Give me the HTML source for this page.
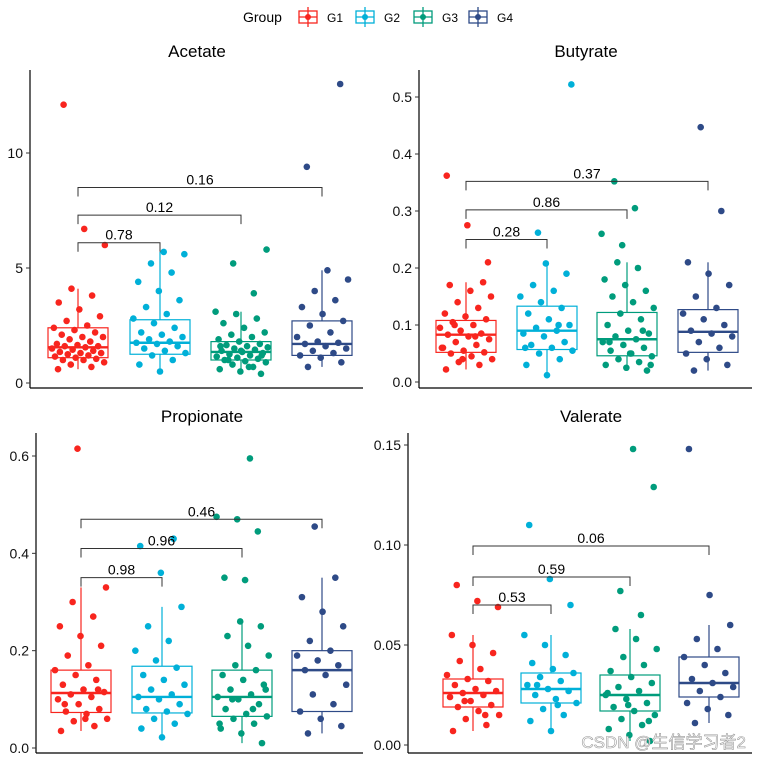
<!DOCTYPE html>
<html><head><meta charset="utf-8"><style>
html,body{margin:0;padding:0;background:#fff;}
svg{display:block;font-family:"Liberation Sans",Arial,sans-serif;}
</style></head><body>
<svg id="chart" width="758" height="761" viewBox="0 0 758 761" xmlns="http://www.w3.org/2000/svg">
<g id="legend">
<text x="243" y="22" font-size="14">Group</text>
</g>
</svg>
<script>
const groups = ["G1","G2","G3","G4"];
const colors = ["#F8251E","#00B0D8","#009C7C","#2E4A87"];
const panelNames = ["Acetate","Butyrate","Propionate","Valerate"];

// box stats: [lo, q1, med, q3, hi] per group
const acetateBox = [[0.6,1.1,1.55,2.4,4.1],[0.5,1.25,1.75,2.75,5.7],[0.4,1.0,1.35,1.8,3.1],[0.7,1.2,1.7,2.7,4.9]];
const butyrateBox = [[0.022,0.052,0.083,0.108,0.175],[0.012,0.057,0.09,0.133,0.208],[0.02,0.046,0.075,0.122,0.21],[0.02,0.052,0.088,0.127,0.21]];
const propionateBox = [[0.035,0.073,0.113,0.16,0.33],[0.022,0.072,0.105,0.168,0.29],[0.01,0.065,0.105,0.16,0.26],[0.03,0.075,0.16,0.2,0.35]];
const valerateBox = [[0.007,0.019,0.026,0.033,0.055],[0.007,0.021,0.028,0.036,0.055],[0.002,0.017,0.025,0.035,0.058],[0.011,0.024,0.031,0.044,0.06]];

// points per group
const acetatePts = [
 [0.6,0.7,0.8,0.9,1.0,1.0,1.05,1.1,1.15,1.2,1.25,1.3,1.3,1.35,1.4,1.45,1.5,1.55,1.6,1.6,1.65,1.7,1.8,1.9,2.0,2.0,2.1,2.2,2.3,2.4,2.5,2.7,2.9,3.2,3.5,3.8,4.1,6.0,6.7,12.1],
 [0.5,0.8,1.0,1.2,1.3,1.4,1.5,1.6,1.7,1.75,1.8,1.9,2.0,2.1,2.2,2.4,2.6,2.8,3.0,3.3,3.6,4.0,4.4,4.8,5.2,5.6,5.7],
 [0.4,0.5,0.6,0.7,0.8,0.9,0.95,1.0,1.05,1.1,1.15,1.2,1.25,1.3,1.35,1.4,1.45,1.5,1.55,1.6,1.65,1.7,1.8,1.9,2.0,2.1,2.2,2.4,2.6,2.8,3.0,3.1,0.7,1.0,1.2,1.4,1.6,3.9,5.2,5.8],
 [0.7,0.9,1.1,1.2,1.3,1.4,1.5,1.6,1.7,1.75,1.8,2.0,2.2,2.5,2.7,3.0,3.3,3.6,4.0,4.5,4.9,9.4,13.0]
];
const butyratePts = [
 [0.022,0.03,0.035,0.04,0.045,0.05,0.052,0.055,0.06,0.065,0.07,0.075,0.08,0.083,0.085,0.09,0.095,0.1,0.105,0.11,0.115,0.12,0.13,0.14,0.15,0.16,0.17,0.175,0.04,0.06,0.08,0.1,0.21,0.275,0.362],
 [0.012,0.03,0.04,0.05,0.055,0.06,0.065,0.07,0.08,0.085,0.09,0.095,0.1,0.11,0.12,0.13,0.14,0.15,0.16,0.17,0.19,0.208,0.06,0.1,0.262,0.522],
 [0.02,0.025,0.03,0.035,0.04,0.045,0.05,0.055,0.06,0.065,0.07,0.075,0.08,0.085,0.09,0.1,0.11,0.12,0.13,0.14,0.15,0.16,0.17,0.18,0.2,0.21,0.03,0.05,0.07,0.09,0.24,0.26,0.305,0.352],
 [0.02,0.03,0.04,0.05,0.06,0.07,0.08,0.085,0.09,0.1,0.11,0.12,0.13,0.15,0.17,0.19,0.21,0.3,0.447]
];
const propionatePts = [
 [0.035,0.045,0.055,0.06,0.07,0.075,0.08,0.09,0.1,0.105,0.11,0.115,0.12,0.13,0.14,0.15,0.16,0.17,0.19,0.21,0.23,0.25,0.27,0.3,0.33,0.06,0.09,0.12,0.615],
 [0.022,0.04,0.05,0.06,0.07,0.075,0.08,0.09,0.1,0.105,0.11,0.12,0.13,0.14,0.15,0.165,0.18,0.2,0.22,0.25,0.29,0.36,0.415,0.43],
 [0.01,0.03,0.04,0.05,0.06,0.065,0.07,0.08,0.09,0.1,0.105,0.11,0.12,0.13,0.14,0.15,0.16,0.17,0.19,0.21,0.23,0.25,0.26,0.05,0.08,0.1,0.12,0.345,0.35,0.445,0.47,0.475,0.595],
 [0.03,0.045,0.06,0.075,0.09,0.11,0.13,0.15,0.16,0.17,0.18,0.19,0.2,0.22,0.25,0.28,0.31,0.35,0.455]
];
const valeratePts = [
 [0.007,0.01,0.013,0.015,0.017,0.019,0.02,0.022,0.024,0.025,0.026,0.027,0.028,0.03,0.032,0.033,0.035,0.038,0.042,0.046,0.05,0.055,0.015,0.022,0.069,0.072,0.08],
 [0.007,0.012,0.015,0.018,0.021,0.023,0.025,0.027,0.028,0.03,0.032,0.034,0.036,0.038,0.041,0.045,0.05,0.055,0.02,0.03,0.07,0.083,0.11],
 [0.002,0.005,0.008,0.01,0.013,0.015,0.017,0.019,0.021,0.023,0.025,0.027,0.029,0.031,0.034,0.037,0.04,0.044,0.048,0.053,0.058,0.012,0.02,0.026,0.065,0.077,0.129,0.148],
 [0.011,0.015,0.018,0.021,0.024,0.027,0.029,0.031,0.033,0.036,0.04,0.044,0.048,0.053,0.06,0.075,0.148]
];

// brackets: [groupFrom, groupTo, yValue, label]
const acetateBr = [[0,1,6.1,"0.78"],[0,2,7.3,"0.12"],[0,3,8.5,"0.16"]];
const butyrateBr = [[0,1,0.25,"0.28"],[0,2,0.302,"0.86"],[0,3,0.352,"0.37"]];
const propionateBr = [[0,1,0.35,"0.98"],[0,2,0.41,"0.96"],[0,3,0.47,"0.46"]];
const valerateBr = [[0,1,0.07,"0.53"],[0,2,0.084,"0.59"],[0,3,0.0995,"0.06"]];

const acetateTicks = [0,5,10];
const butyrateTicks = [0.0,0.1,0.2,0.3,0.4,0.5];
const propionateTicks = [0.0,0.2,0.4,0.6];
const valerateTicks = [0.00,0.05,0.10,0.15];
const acetateTickLabels = ["0","5","10"];
const butyrateTickLabels = ["0.0","0.1","0.2","0.3","0.4","0.5"];
const propionateTickLabels = ["0.0","0.2","0.4","0.6"];
const valerateTickLabels = ["0.00","0.05","0.10","0.15"];

const NS="http://www.w3.org/2000/svg";
const svg=document.getElementById('chart');
function mk(tag,attrs,parent){const e=document.createElementNS(NS,tag);for(const k in attrs)e.setAttribute(k,attrs[k]);(parent||svg).appendChild(e);return e;}

// legend
const legend=document.getElementById('legend');
const legX=[299,356,414,469];
groups.forEach((g,i)=>{
  const it=mk('g',{},legend);
  
  
  const x=legX[i];
  mk('rect',{x:x,y:11,width:18,height:12,fill:'none',stroke:colors[i],'stroke-width':1.3},it);
  mk('line',{x1:x+9,y1:7,x2:x+9,y2:27,stroke:colors[i],'stroke-width':1.3},it);
  mk('line',{x1:x,y1:17,x2:x+18,y2:17,stroke:colors[i],'stroke-width':1.3},it);
  mk('circle',{cx:x+9,cy:17,r:3,fill:colors[i]},it);
  const t=mk('text',{x:x+28,y:22,'font-size':12},it);t.textContent=g;
});

const panels=[
 {name:panelNames[0],box:acetateBox,pts:acetatePts,br:acetateBr,ticks:acetateTicks,tl:acetateTickLabels,ax:30,xr:363,yTop:70,yBot:388,v0:0,p0:383,v1:10,p1:153,cx:[78,160,241,322],tx:197,ty:57},
 {name:panelNames[1],box:butyrateBox,pts:butyratePts,br:butyrateBr,ticks:butyrateTicks,tl:butyrateTickLabels,ax:419,xr:752,yTop:70,yBot:388,v0:0,p0:382,v1:0.5,p1:97,cx:[466,547,627,708],tx:586,ty:57},
 {name:panelNames[2],box:propionateBox,pts:propionatePts,br:propionateBr,ticks:propionateTicks,tl:propionateTickLabels,ax:36,xr:363,yTop:433,yBot:753,v0:0,p0:748,v1:0.6,p1:456,cx:[81,162,242,322],tx:202,ty:422},
 {name:panelNames[3],box:valerateBox,pts:valeratePts,br:valerateBr,ticks:valerateTicks,tl:valerateTickLabels,ax:408,xr:752,yTop:433,yBot:753,v0:0,p0:745,v1:0.15,p1:445,cx:[473,551,630,709],tx:591,ty:422}
];

panels.forEach(P=>{
  const key=P.name.toLowerCase();
  const y=v=>P.p0+(v-P.v0)*(P.p1-P.p0)/(P.v1-P.v0);
  const g=mk('g',{});
  
  
  const title=mk('text',{x:P.tx,y:P.ty,'font-size':17,'text-anchor':'middle'},g);
  title.textContent=P.name;
  
  
  const ya=mk('line',{x1:P.ax,y1:P.yTop,x2:P.ax,y2:P.yBot,stroke:'#000','stroke-width':1.2},g);
  
  
  const xa=mk('line',{x1:P.ax,y1:P.yBot,x2:P.xr,y2:P.yBot,stroke:'#000','stroke-width':1.2},g);
  
  
  P.ticks.forEach((t,i)=>{
    const yy=y(t);
    mk('line',{x1:P.ax-4,y1:yy,x2:P.ax,y2:yy,stroke:'#333','stroke-width':1},g);
    const tl=mk('text',{x:P.ax-7,y:yy+5,'font-size':14,'text-anchor':'end',fill:'#111'},g);
    tl.textContent=P.tl[i];
    
    
  });
  P.box.forEach((b,i)=>{
    const c=P.cx[i],col=colors[i],w=30;
    const bg=mk('g',{},g);
    
    
    mk('line',{x1:c,y1:y(b[0]),x2:c,y2:y(b[1]),stroke:col,'stroke-width':1.2},bg);
    mk('line',{x1:c,y1:y(b[3]),x2:c,y2:y(b[4]),stroke:col,'stroke-width':1.2},bg);
    mk('rect',{x:c-w,y:y(b[3]),width:2*w,height:y(b[1])-y(b[3]),fill:'#fff',stroke:col,'stroke-width':1.2},bg);
    mk('line',{x1:c-w,y1:y(b[2]),x2:c+w,y2:y(b[2]),stroke:col,'stroke-width':2.4},bg);
    P.pts[i].forEach((v,j)=>{
      const fr=((j*0.6180339+i*0.37+0.13)%1);
      const off=(fr*2-1)*27;
      const p=mk('circle',{cx:c+off,cy:y(v),r:3.3,fill:col},bg);
      
      
    });
  });
  P.br.forEach(br=>{
    const x1=P.cx[br[0]],x2=P.cx[br[1]],yy=y(br[2]);
    const bg=mk('g',{},g);
    
    
    mk('path',{d:`M${x1},${yy+9}V${yy}H${x2}V${yy+9}`,fill:'none',stroke:'#333','stroke-width':1},bg);
    const t=mk('text',{x:(x1+x2)/2,y:yy-3,'font-size':14,'text-anchor':'middle'},bg);
    t.textContent=br[3];
  });
});
const wm=mk('text',{x:746,y:748,'font-size':17,'text-anchor':'end',fill:'#fff',stroke:'#999','stroke-width':0.6,'font-family':'"Liberation Sans","Noto Sans CJK SC",sans-serif'});
wm.textContent='CSDN @生信学习者2';


</script>
</body></html>
